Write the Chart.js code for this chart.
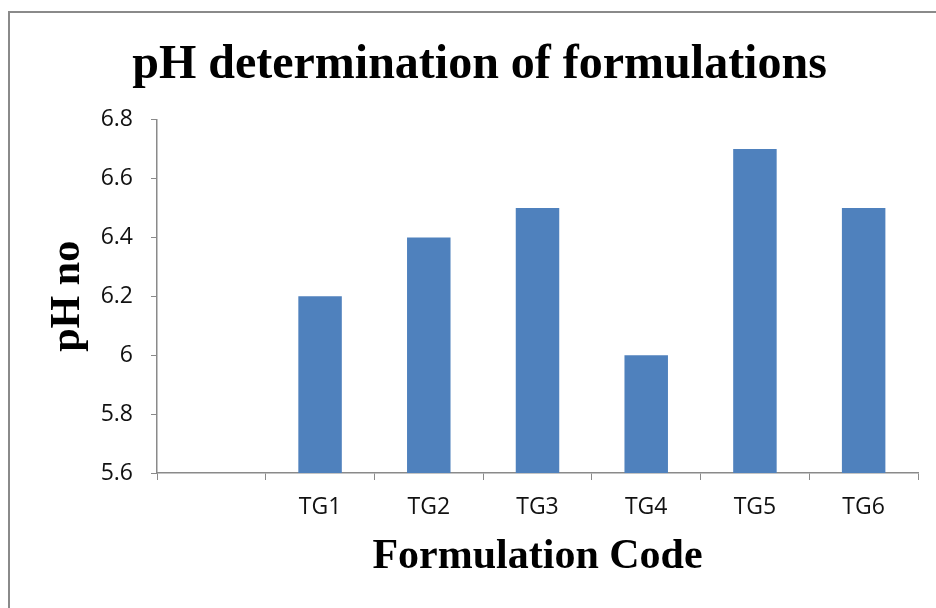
<!DOCTYPE html>
<html>
<head>
<meta charset="utf-8">
<script src="https://cdn.jsdelivr.net/npm/chart.js@4"></script>
<style>
  body { margin: 0; background: #fff; }
  #wrap { position: relative; width: 936px; height: 608px; overflow: hidden; }
  #frame { position: absolute; left: 8px; top: 11px; width: 960px; height: 640px;
           border-left: 2px solid #8a8a8a; border-top: 2px solid #8a8a8a; }
  canvas { position: absolute; left: 0; top: 0; }
</style>
</head>
<body>
<div id="wrap">
  <div id="frame"></div>
  <canvas id="myChart" width="936" height="608"></canvas>
</div>
<script>
const categories = ["", "TG1", "TG2", "TG3", "TG4", "TG5", "TG6"];
const phValues = [null, 6.2, 6.4, 6.5, 6.0, 6.7, 6.5];
const yMin = 5.6;
const yMax = 6.8;
const yStep = 0.2;

const ctx = document.getElementById("myChart");
const axisGrey = "#8a8a8a";

var chart = new Chart(ctx, {
  type: "bar",
  data: {
    labels: categories,
    datasets: [
      {
        label: "pH",
        data: phValues,
        backgroundColor: "#4f81bd",
        barPercentage: 0.4,
        categoryPercentage: 1,
      },
    ],
  },
  options: {
    responsive: false,
    animation: false,
    layout: {
      padding: { left: 41, right: 18, top: 12, bottom: 0 },
    },
    plugins: {
      legend: { display: false },
      tooltip: { enabled: false },
      title: {
        display: true,
        text: "pH determination of formulations",
        color: "#000",
        font: { family: "Liberation Serif", size: 48, weight: "bold" },
        padding: { top: 25, bottom: 25 },
      },
    },
    scales: {
      x: {
        afterFit: function (scale) {
          scale.height = 135;
        },
        grid: {
          offset: true,
          drawOnChartArea: false,
          drawTicks: true,
          tickLength: 7,
          color: axisGrey,
        },
        border: { color: axisGrey, width: 1.5 },
        ticks: {
          color: "#111",
          padding: 14,
          font: { family: "Open Sans", size: 23 },
          maxRotation: 0,
        },
        title: {
          display: true,
          text: "Formulation Code",
          color: "#000",
          font: { family: "Liberation Serif", size: 42, weight: "bold" },
          padding: { top: 0, bottom: 26 },
        },
      },
      y: {
        min: yMin,
        max: yMax,
        afterFit: function (scale) {
          scale.width = 116;
        },
        grid: {
          drawOnChartArea: false,
          drawTicks: true,
          tickLength: 6,
          color: axisGrey,
        },
        border: { color: axisGrey, width: 1.5 },
        ticks: {
          stepSize: yStep,
          color: "#111",
          padding: 18,
          font: { family: "Open Sans", size: 23 },
          callback: function (value) {
            return String(parseFloat(value.toFixed(1)));
          },
        },
        title: {
          display: true,
          text: "pH no",
          color: "#000",
          font: { family: "Liberation Serif", size: 42, weight: "bold" },
          padding: { top: 2, bottom: 0 },
        },
      },
    },
  },
});
</script>
</body>
</html>
